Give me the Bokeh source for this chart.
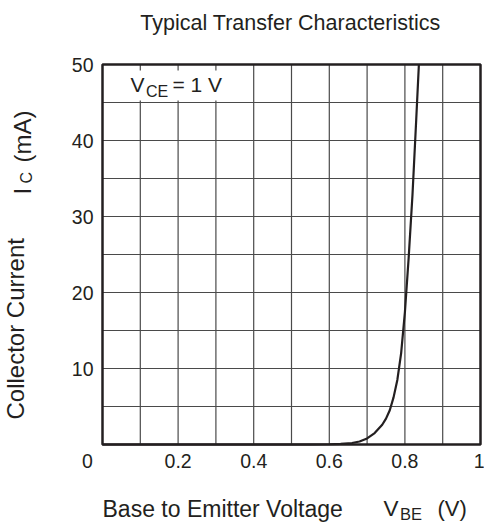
import math
from bokeh.plotting import figure
from bokeh.models import Label, FixedTicker, Range1d
from bokeh.embed import file_html
from bokeh.resources import INLINE

# ---- data ----
vbe = [0.0, 0.55, 0.60, 0.63, 0.66, 0.68, 0.70, 0.72, 0.74, 0.75, 0.76,
       0.77, 0.78, 0.79, 0.80, 0.81, 0.82, 0.83, 0.837]
ic_ma = [0.0, 0.0, 0.03, 0.08, 0.2, 0.4, 0.8, 1.5, 2.6, 3.4, 4.5,
         6.2, 8.5, 12.0, 17.4, 24.6, 32.8, 42.8, 50.0]

x_lo, x_hi = 0.0, 1.0
y_lo, y_hi = 0.0, 50.0
x_ticks = [0.2, 0.4, 0.6, 0.8, 1.0]
x_tick_labels = ["0.2", "0.4", "0.6", "0.8", "1"]
y_ticks = [10, 20, 30, 40, 50]
y_tick_labels = ["10", "20", "30", "40", "50"]
x_grid = [0.1, 0.2, 0.3, 0.4, 0.5, 0.6, 0.7, 0.8, 0.9]
y_grid = [5, 10, 15, 20, 25, 30, 35, 40, 45]

title_text = "Typical Transfer Characteristics"
INK = "#231f20"
FONT = "Liberation Sans"

W, H = 484, 526
FL, FR, FT, FB = 102.0, 480.0, 64.0, 444.0   # plot box edges in page pixels
XS = (FR - FL) / (x_hi - x_lo)
YS = (FB - FT) / (y_hi - y_lo)

def dx(sx):
    return x_lo + (sx - FL) / XS
def dy(sy):
    return y_lo + (FB - sy) / YS

# the frame covers the whole canvas; the chart box is placed inside it
p = figure(width=W, height=H,
           x_range=Range1d(dx(0), dx(W)), y_range=Range1d(dy(H), dy(0)),
           output_backend="svg", toolbar_location=None, title=None,
           min_border=0, min_border_left=0, min_border_right=0,
           min_border_top=0, min_border_bottom=0)
p.background_fill_color = "white"
p.border_fill_color = "white"
p.outline_line_color = None
p.grid.visible = False

for ax in (p.xaxis, p.yaxis):
    ax.axis_line_color = None
    ax.major_tick_line_color = None
    ax.minor_tick_line_color = None
    ax.major_label_text_font = FONT
    ax.major_label_text_font_size = "19.5px"
    ax.major_label_text_color = INK

p.xaxis.fixed_location = y_lo
p.xaxis.ticker = FixedTicker(ticks=x_ticks)
p.xaxis.major_label_overrides = {t: l for t, l in zip(x_ticks, x_tick_labels)}
p.xaxis.major_label_standoff = 3
p.yaxis.fixed_location = x_lo
p.yaxis.ticker = FixedTicker(ticks=y_ticks)
p.yaxis.major_label_overrides = {t: l for t, l in zip(y_ticks, y_tick_labels)}
p.yaxis.major_label_standoff = 3

# grid lines inside the plot box
p.segment(x0=x_grid, y0=[y_lo] * len(x_grid), x1=x_grid, y1=[y_hi] * len(x_grid),
          line_color="#4a4a4a", line_width=1.2)
p.segment(x0=[x_lo] * len(y_grid), y0=y_grid, x1=[x_hi] * len(y_grid), y1=y_grid,
          line_color="#4a4a4a", line_width=1.2)

# white backing behind the V_CE note
p.quad(left=[dx(103.5)], right=[dx(245)], top=[dy(70)], bottom=[dy(100)],
       fill_color="white", line_color=None)

# curve
p.line(vbe, ic_ma, line_color=INK, line_width=2.2)

# plot box
p.quad(left=[x_lo], right=[x_hi], bottom=[y_lo], top=[y_hi],
       fill_color=None, line_color=INK, line_width=2.5)

def lab(text, sx, sy, size, align="left", rotated=False):
    # (sx, sy): wanted baseline point in page pixels; correct for the
    # renderer's baseline placement (about 0.39 em lower than the anchor)
    shift = 0.39 * size
    if rotated:
        ax_, ay_ = sx - shift, sy
    else:
        ax_, ay_ = sx, sy - shift
    p.add_layout(Label(x=dx(ax_), y=dy(ay_), text=text, text_font=FONT,
                       text_font_size=f"{size}px", text_color=INK,
                       text_align=align, text_baseline="alphabetic",
                       angle=math.pi / 2 if rotated else 0.0))

lab("V", 130, 92, 21)
lab("CE", 145.5, 97, 16)
lab("= 1 V", 172, 92, 21)

# origin label
lab("0", 87, 468, 19.5, align="center")

# title
lab(title_text, 290, 31, 21.5, align="center")

# x axis label
lab("Base to Emitter Voltage", 102, 517, 23)
lab("V", 383, 517, 22.5)
lab("BE", 399.5, 519.5, 16.5)
lab("(V)", 437, 517, 22)

# y axis label (rotated, reading upward)
lab("Collector Current", 24.3, 419, 24, rotated=True)
lab("I", 31.7, 194, 24, rotated=True)
lab("C", 32.5, 183, 16, rotated=True)
lab("(mA)", 31.7, 162, 24, rotated=True)

open("out.html", "w").write(file_html(p, INLINE))
